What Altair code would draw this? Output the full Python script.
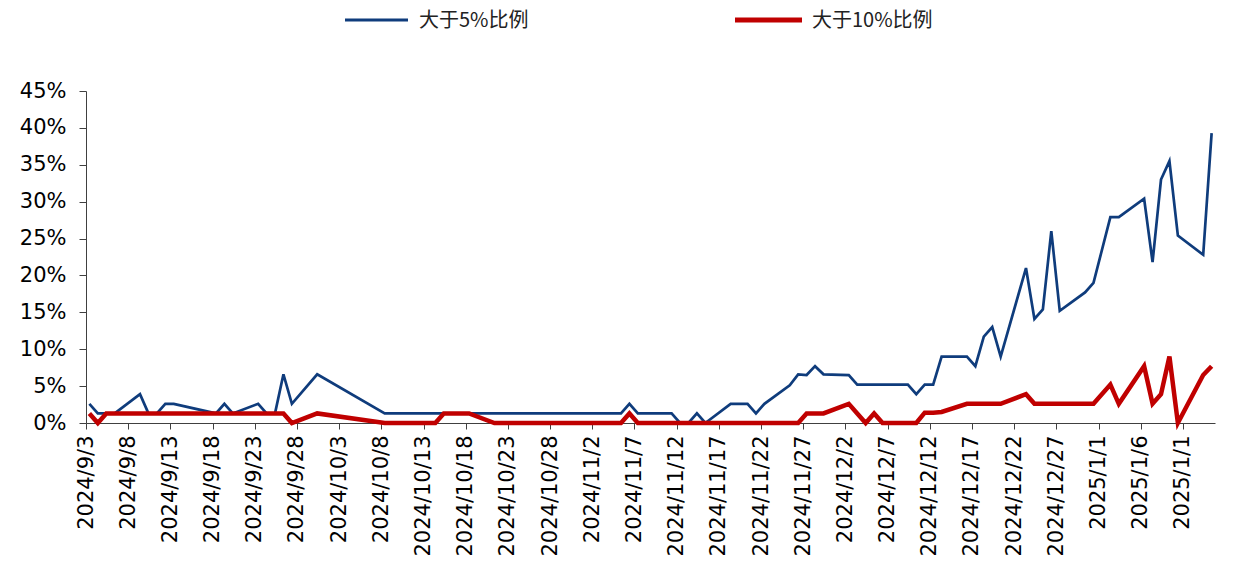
import altair as alt
import pandas as pd

# ---- data ----
dates = [
    "2024-09-03", "2024-09-04", "2024-09-05", "2024-09-06", "2024-09-09", "2024-09-10",
    "2024-09-11", "2024-09-12", "2024-09-13", "2024-09-18", "2024-09-19", "2024-09-20",
    "2024-09-23", "2024-09-24", "2024-09-25", "2024-09-26", "2024-09-27", "2024-09-30",
    "2024-10-08", "2024-10-09", "2024-10-10", "2024-10-11", "2024-10-14", "2024-10-15",
    "2024-10-16", "2024-10-17", "2024-10-18", "2024-10-21", "2024-10-22", "2024-10-23",
    "2024-10-24", "2024-10-25", "2024-10-28", "2024-10-29", "2024-10-30", "2024-10-31",
    "2024-11-01", "2024-11-04", "2024-11-05", "2024-11-06", "2024-11-07", "2024-11-08",
    "2024-11-11", "2024-11-12", "2024-11-13", "2024-11-14", "2024-11-15", "2024-11-18",
    "2024-11-19", "2024-11-20", "2024-11-21", "2024-11-22", "2024-11-25", "2024-11-26",
    "2024-11-27", "2024-11-28", "2024-11-29", "2024-12-02", "2024-12-03", "2024-12-04",
    "2024-12-05", "2024-12-06", "2024-12-09", "2024-12-10", "2024-12-11", "2024-12-12",
    "2024-12-13", "2024-12-16", "2024-12-17", "2024-12-18", "2024-12-19", "2024-12-20",
    "2024-12-23", "2024-12-24", "2024-12-25", "2024-12-26", "2024-12-27", "2024-12-30",
    "2024-12-31", "2025-01-02", "2025-01-03", "2025-01-06", "2025-01-07", "2025-01-08",
    "2025-01-09", "2025-01-10", "2025-01-13", "2025-01-14",
]

# share of names above 5% (percent)
share_above_5 = [
    2.6, 1.3, 1.3, 1.3, 3.9, 1.3,
    1.3, 2.6, 2.6, 1.3, 2.6, 1.3,
    2.6, 1.3, 1.3, 6.6, 2.6, 6.6,
    1.3, 1.3, 1.3, 1.3, 1.3, 1.3,
    1.3, 1.3, 1.3, 1.3, 1.3, 1.3,
    1.3, 1.3, 1.3, 1.3, 1.3, 1.3,
    1.3, 1.3, 1.3, 2.6, 1.3, 1.3,
    1.3, 0.0, 0.0, 1.3, 0.0, 2.6,
    2.6, 2.6, 1.3, 2.6, 5.1, 6.6,
    6.5, 7.7, 6.6, 6.5, 5.2, 5.2,
    5.2, 5.2, 5.2, 3.9, 5.2, 5.2,
    9.0, 9.0, 7.7, 11.7, 13.0, 9.0,
    21.0, 14.1, 15.4, 26.0, 15.2, 17.7,
    19.0, 27.9, 27.9, 30.4, 21.8, 33.0,
    35.5, 25.4, 22.8, 39.3,
]

# share of names above 10% (percent)
share_above_10 = [
    1.3, 0.0, 1.3, 1.3, 1.3, 1.3,
    1.3, 1.3, 1.3, 1.3, 1.3, 1.3,
    1.3, 1.3, 1.3, 1.3, 0.0, 1.3,
    0.0, 0.0, 0.0, 0.0, 0.0, 1.3,
    1.3, 1.3, 1.3, 0.0, 0.0, 0.0,
    0.0, 0.0, 0.0, 0.0, 0.0, 0.0,
    0.0, 0.0, 0.0, 1.3, 0.0, 0.0,
    0.0, 0.0, 0.0, 0.0, 0.0, 0.0,
    0.0, 0.0, 0.0, 0.0, 0.0, 0.0,
    1.3, 1.3, 1.3, 2.6, 1.3, 0.0,
    1.3, 0.0, 0.0, 0.0, 1.4, 1.4,
    1.5, 2.6, 2.6, 2.6, 2.6, 2.6,
    3.9, 2.6, 2.6, 2.6, 2.6, 2.6,
    2.6, 5.2, 2.6, 7.7, 2.6, 3.9,
    9.0, 0.0, 6.5, 7.7,
]

series_names = ["大于5%比例", "大于10%比例"]
series_colors = ["#0F3C7C", "#C00000"]

tick_labels = [
    "2024/9/3", "2024/9/8", "2024/9/13", "2024/9/18", "2024/9/23", "2024/9/28",
    "2024/10/3", "2024/10/8", "2024/10/13", "2024/10/18", "2024/10/23", "2024/10/28",
    "2024/11/2", "2024/11/7", "2024/11/12", "2024/11/17", "2024/11/22", "2024/11/27",
    "2024/12/2", "2024/12/7", "2024/12/12", "2024/12/17", "2024/12/22", "2024/12/27",
    "2025/1/1", "2025/1/6", "2025/1/1",
]
y_ticks = [0, 0.05, 0.10, 0.15, 0.20, 0.25, 0.30, 0.35, 0.40, 0.45]

# ---- build table ----
start = pd.Timestamp(dates[0])
day_index = [(pd.Timestamp(d) - start).days for d in dates]
rows = []
for name, vals in zip(series_names, [share_above_5, share_above_10]):
    for d, di, v in zip(dates, day_index, vals):
        rows.append({"date": d, "day": di, "series": name, "value": v / 100.0})
df = pd.DataFrame(rows)

OFFSET = 0.4
tick_vals = [5 * k - OFFSET for k in range(len(tick_labels))]
label_array = "[" + ",".join("'" + t + "'" for t in tick_labels) + "]"
label_expr = label_array + "[round((datum.value + %s) / 5)]" % OFFSET

FONT = "DejaVu Sans"
AX = "#404040"

x_enc = alt.X(
    "day:Q",
    scale=alt.Scale(domain=[-OFFSET, 133.4], nice=False, zero=False),
    axis=alt.Axis(
        values=tick_vals, labelExpr=label_expr, title=None, grid=False,
        labelAngle=-90, labelFont=FONT, labelFontSize=21, labelColor="#000000",
        domainColor=AX, tickColor=AX, tickSize=6, labelPadding=6,
        labelOverlap=False, labelBound=False, labelFlush=False,
    ),
)
y_enc = alt.Y(
    "value:Q",
    scale=alt.Scale(domain=[0, 0.45], nice=False),
    axis=alt.Axis(
        values=y_ticks, format=".0%", title=None, grid=False,
        labelFont=FONT, labelFontSize=21, labelColor="#000000",
        domainColor=AX, tickColor=AX, tickSize=7, labelPadding=13,
    ),
)

base = alt.Chart(df)
line5 = base.transform_filter(alt.datum.series == series_names[0]).mark_line(
    color=series_colors[0], strokeWidth=2.7, strokeJoin="miter", strokeMiterLimit=4
).encode(x=x_enc, y=y_enc)
line10 = base.transform_filter(alt.datum.series == series_names[1]).mark_line(
    color=series_colors[1], strokeWidth=4.5, strokeJoin="miter", strokeMiterLimit=4
).encode(x=x_enc, y=y_enc)

# ---- legend drawn at the top ----
def legend_item(i, x0, x1, tx):
    rule = alt.Chart(pd.DataFrame({"name": [series_names[i]]})).mark_rule(
        color=series_colors[i], strokeWidth=3 if i == 0 else 5
    ).encode(x=alt.value(x0), x2=alt.value(x1), y=alt.value(-71))
    txt = alt.Chart(pd.DataFrame({"name": [series_names[i]]})).mark_text(
        align="left", baseline="middle", font="Noto Sans CJK SC",
        fontSize=20, color="#222222"
    ).encode(text="name:N", x=alt.value(tx), y=alt.value(-70))
    return rule + txt

leg1 = legend_item(0, 259, 322, 333)
leg2 = legend_item(1, 649, 716, 726)

chart = alt.layer(line5, line10, leg1, leg2).properties(
    width=1129, height=332,
    autosize=alt.AutoSizeParams(type="none"),
    padding={"left": 78, "top": 83, "right": 16, "bottom": 135},
    background="#ffffff",
).configure_view(stroke=None, strokeWidth=0)

chart.save("out.html", embed_options={"renderer": "svg", "actions": False})
